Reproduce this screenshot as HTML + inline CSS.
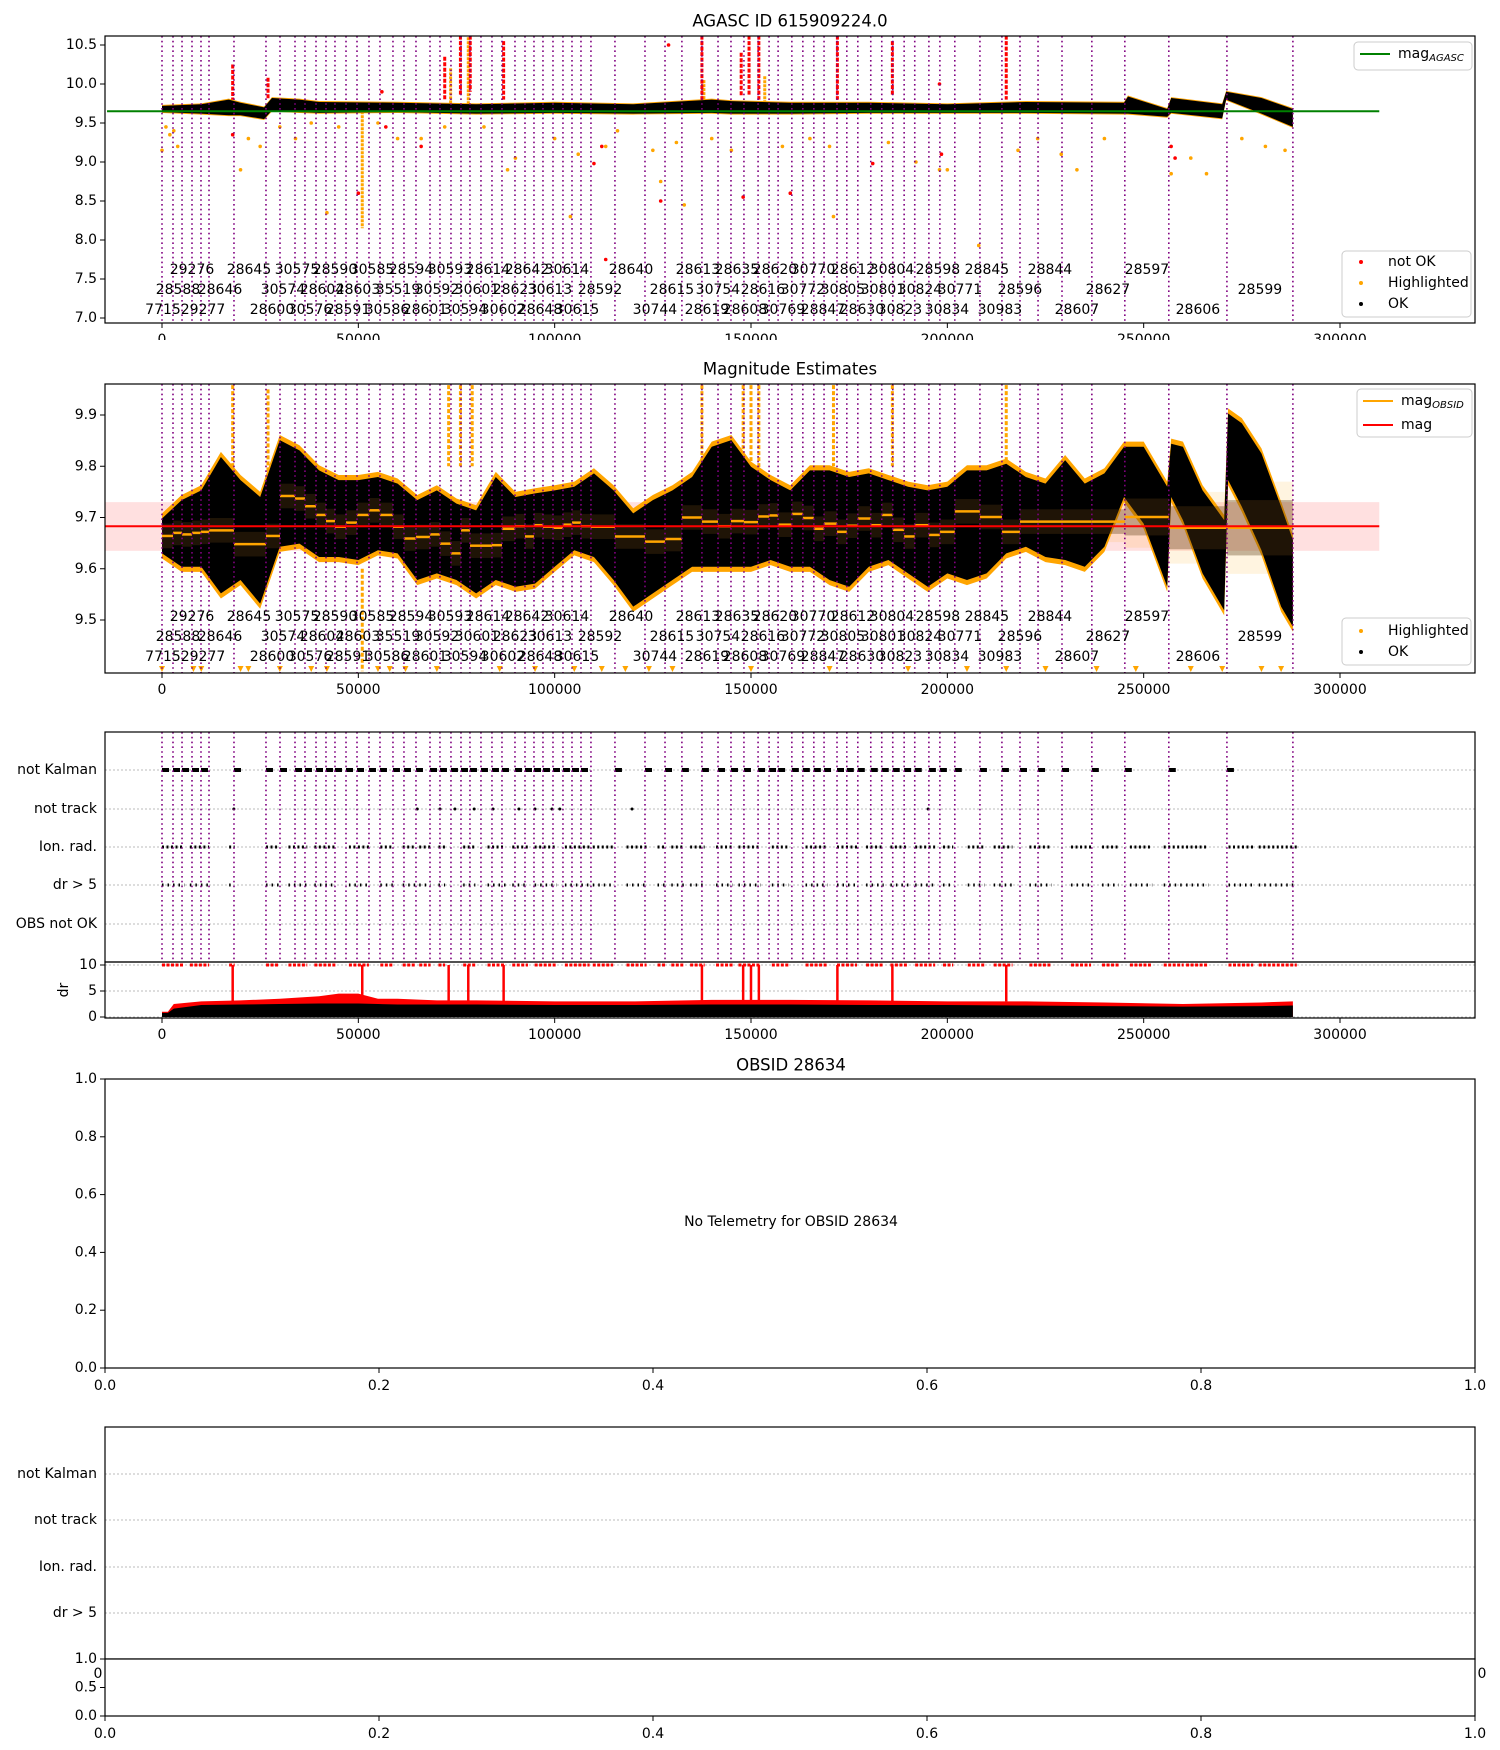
<!DOCTYPE html>
<html><head><meta charset="utf-8"><title>AGASC 615909224</title>
<style>
html,body{margin:0;padding:0;background:#fff;}
svg{display:block;font-family:"DejaVu Sans","Liberation Sans",sans-serif;}
</style></head>
<body>
<svg id="fig" xmlns="http://www.w3.org/2000/svg" width="1500" height="1750" viewBox="0 0 1500 1750"></svg>
<script>
// ---------- data ----------
const obsStart = [0,2800,5100,7640,9930,11970,18330,26480,30050,33870,36410,39220,41760,44050,46860,49660,52710,55510,58820,61620,64680,68250,70790,73590,76140,78430,81230,84030,86580,89890,92440,94730,97020,99570,102110,104410,106700,109240,115350,123000,128100,132400,137500,141600,144900,148200,151800,154600,156900,160400,163200,166000,168600,171900,174400,177200,180500,183300,186100,189000,191700,195300,198100,201900,208300,213900,218500,223100,229200,236800,245200,256400,271200,288000];
const obsMedian = [9.664,9.670,9.667,9.670,9.672,9.675,9.648,9.664,9.742,9.737,9.722,9.705,9.693,9.682,9.690,9.705,9.714,9.705,9.682,9.659,9.662,9.667,9.649,9.630,9.675,9.645,9.645,9.646,9.678,9.683,9.663,9.685,9.682,9.680,9.686,9.690,9.683,9.682,9.663,9.653,9.658,9.700,9.692,9.683,9.693,9.691,9.702,9.704,9.686,9.707,9.699,9.678,9.688,9.672,9.684,9.698,9.685,9.705,9.676,9.663,9.685,9.666,9.672,9.712,9.701,9.672,9.692,9.692,9.692,9.692,9.701,9.680,9.680];
const obsStd = [0.04,0.04,0.04,0.04,0.04,0.04,0.04,0.04,0.04,0.04,0.04,0.04,0.04,0.04,0.04,0.04,0.04,0.04,0.04,0.04,0.04,0.04,0.04,0.04,0.04,0.04,0.04,0.04,0.04,0.04,0.04,0.04,0.04,0.04,0.04,0.04,0.04,0.04,0.04,0.04,0.04,0.04,0.04,0.04,0.04,0.04,0.04,0.04,0.04,0.04,0.04,0.04,0.04,0.04,0.04,0.04,0.04,0.04,0.04,0.04,0.04,0.04,0.04,0.04,0.04,0.04,0.04,0.04,0.04,0.04,0.06,0.07,0.09];

const labRow0 = ["29276","28645","30575","28590","30585","28594","30593","28614","28642","30614","28640","28613","28635","28620","30770","28612","30804","28598","28845","28844","28597"];
const labRow0T = [7640,22150,34380,44050,53480,63410,73340,83010,92950,103130,119430,136490,146420,156100,165780,175960,185890,197600,210080,226130,250830];
const labRow1 = ["28588","28646","30574","28604","28603","35519","30592","30601","28623","30613","28592","28615","30754","28616","30772","30805","30801","30824","30771","28596","28627","28599"];
const labRow1T = [4070,14770,30810,40740,49910,60100,70030,80210,89890,98800,111540,129870,141580,153040,163230,173410,183600,193020,203210,218490,240900,279600];
const labRow2 = ["7715","29277","28600","30576","28591","30586","28601","30594","30602","28648","30615","30744","28619","28608","30769","28847","28630","30823","30834","30983","28607","28606"];
const labRow2T = [250,10440,28010,37690,47360,57300,66970,77160,86830,96260,105680,125540,138780,148460,158130,168320,178250,187930,199900,213390,233000,263810];

const magAgasc = 9.65;
const p1T  = [0,10000,17000,20000,26000,28000,35000,40000,60000,80000,100000,120000,140000,145000,160000,180000,200000,220000,245000,246000,256000,257000,270000,271000,280000,288000];
const p1Hi = [9.72,9.74,9.8,9.76,9.7,9.82,9.8,9.77,9.76,9.74,9.76,9.74,9.8,9.78,9.76,9.76,9.74,9.77,9.76,9.84,9.68,9.82,9.74,9.9,9.82,9.68];
const p1Lo = [9.64,9.62,9.6,9.6,9.55,9.66,9.64,9.63,9.64,9.62,9.63,9.62,9.63,9.62,9.62,9.63,9.63,9.63,9.62,9.62,9.58,9.63,9.56,9.8,9.62,9.45];
const p1SpikeT  = [18000,27000,72000,76000,78500,87000,137500,147500,149500,152000,172000,186000,215000];
const p1SpikeLo = [9.8,9.8,9.8,9.85,9.9,9.8,9.8,9.85,9.85,9.8,9.8,9.85,9.8];
const p1SpikeHi = [10.25,10.08,10.35,10.62,10.62,10.55,10.62,10.4,10.62,10.62,10.62,10.55,10.62];
const p1OrSpikeT = [51000,73500,78000,153500,138000];
const p1OrSpikeLo = [8.15,9.75,9.75,9.75,9.75];
const p1OrSpikeHi = [9.65,10.2,10.6,10.1,10.05];
const p1OrT = [1000,2000,3000,4000,0,20000,22000,25000,30000,34000,38000,42000,45000,55000,60000,66000,72000,82000,88000,90000,100000,104000,106000,113000,116000,125000,127000,131000,133000,140000,145000,158000,165000,170000,171000,185000,192000,198000,200000,208000,218000,223000,229000,233000,240000,257000,262000,266000,275000,281000,286000];
const p1OrM = [9.45,9.35,9.4,9.2,9.15,8.9,9.3,9.2,9.45,9.3,9.5,8.35,9.45,9.5,9.3,9.3,9.45,9.45,8.9,9.05,9.3,8.3,9.1,9.2,9.4,9.15,8.75,9.25,8.45,9.3,9.15,9.2,9.3,9.2,8.3,9.25,9.0,8.9,8.9,7.93,9.15,9.3,9.1,8.9,9.3,8.85,9.05,8.85,9.3,9.2,9.15];
const p1RedT = [18000,50000,56000,57000,66000,110000,112000,113000,127000,129000,148000,160000,181000,198000,198500,257000,258000];
const p1RedM = [9.35,8.6,9.9,9.45,9.2,8.98,9.2,7.75,8.5,10.5,8.55,8.6,8.98,10.0,9.1,9.2,9.05];

const p2T  = [0,5000,10000,15000,20000,25000,30000,35000,40000,45000,50000,55000,60000,65000,70000,75000,80000,85000,90000,95000,100000,105000,110000,115000,120000,125000,130000,135000,140000,145000,150000,155000,160000,165000,170000,175000,180000,185000,190000,195000,200000,205000,210000,215000,220000,225000,230000,235000,240000,245000,250000,256000,257000,260000,265000,270500,271500,275000,280000,285000,288000];
const p2Hi = [9.698,9.734,9.753,9.818,9.773,9.740,9.851,9.831,9.792,9.773,9.773,9.779,9.766,9.734,9.753,9.727,9.714,9.779,9.740,9.747,9.753,9.760,9.786,9.753,9.708,9.734,9.753,9.779,9.838,9.851,9.799,9.773,9.753,9.792,9.792,9.779,9.786,9.773,9.760,9.753,9.760,9.792,9.792,9.805,9.779,9.766,9.812,9.766,9.786,9.838,9.838,9.760,9.844,9.838,9.753,9.695,9.903,9.884,9.825,9.721,9.656];
const p2Lo = [9.630,9.604,9.604,9.552,9.578,9.532,9.643,9.649,9.623,9.623,9.617,9.636,9.630,9.578,9.591,9.578,9.552,9.578,9.565,9.571,9.604,9.636,9.623,9.578,9.526,9.552,9.578,9.604,9.604,9.604,9.604,9.617,9.604,9.604,9.578,9.565,9.604,9.617,9.591,9.565,9.591,9.578,9.591,9.630,9.643,9.623,9.617,9.604,9.643,9.740,9.688,9.565,9.740,9.695,9.591,9.519,9.773,9.721,9.636,9.526,9.487];
const magMean = 9.683;
const magBandLo = 9.635;
const magBandHi = 9.73;
const p2SpikeT  = [18000,27000,51000,73000,76000,79000,137500,148000,150000,152000,171000,186000,215000];
const p2SpikeLo = [9.78,9.75,9.40,9.8,9.8,9.8,9.8,9.8,9.8,9.78,9.8,9.8,9.8];
const p2SpikeHi = [9.97,9.95,9.6,9.97,9.97,9.97,9.97,9.97,9.97,9.97,9.97,9.97,9.97];
const p2TriT = [0,8000,10000,20000,22000,30000,38000,42000,55000,58000,62000,70000,86000,95000,105000,112000,118000,124000,130000,150000,170000,190000,205000,215000,225000,238000,248000,262000,270000,280000,285000];

const flagNotKalmanT = [0,2800,5100,7640,9930,18330,26480,30050,33870,36410,39220,41760,44050,46860,49660,52710,55510,58820,61620,64680,68250,70790,73590,76140,78430,81230,84030,86580,89890,92440,94730,97020,99570,102110,104410,106700,115350,123000,128100,132400,137500,141600,144900,148200,151800,154600,156900,160400,163200,166000,168600,171900,174400,177200,180500,183300,186100,189000,191700,195300,198100,201900,208300,213900,218500,223100,229200,236800,245200,256400,271200];
const flagNotTrackT = [18300,65000,70800,74600,79500,84300,90900,95000,99300,101300,119700,195100];
const flagIonStart = [0,7100,17100,26500,32200,38800,47600,55600,61300,65500,70400,76700,82900,89200,94900,102600,109700,118300,126200,129700,134500,141100,146800,155300,163900,171900,179300,185500,191800,198900,205200,211800,220900,231500,239400,246500,255100,260800,271600,279300];
const flagIonEnd   = [5700,12000,18500,29900,37000,44200,52700,59000,64700,68400,72100,79800,87500,93200,100600,108900,114900,123400,128500,133100,138200,145400,152500,159600,169600,177000,183800,190100,196900,201500,209500,216600,226600,236600,243700,252200,260200,266500,277900,289000];

const drT = [0,1500,3000,10000,20000,30000,40000,45000,50000,55000,60000,70000,80000,100000,120000,140000,160000,180000,200000,220000,240000,260000,280000,288000];
const drRedHi = [1,1,2.5,3,3.2,3.5,4,4.5,4.5,3.5,3.5,3.2,3.2,3,3,3.3,3.3,3.2,3,3,2.8,2.5,2.8,3];
const drBlackHi = [0.8,0.8,1.6,2.3,2.4,2.5,2.6,2.6,2.6,2.5,2.4,2.4,2.4,2.3,2.3,2.4,2.4,2.3,2.3,2.2,2.1,2.0,2.1,2.2];
const drSpikeT = [18000,51000,73000,78000,87000,137500,148000,150000,152000,172000,186000,215000];

const xTicks = [0,50000,100000,150000,200000,250000,300000];
const p1YTicks = [7.0,7.5,8.0,8.5,9.0,9.5,10.0,10.5];
const p2YTicks = [9.5,9.6,9.7,9.8,9.9];
const flagRows = ["not Kalman","not track","Ion. rad.","dr > 5","OBS not OK"];
const unitTicks = [0.0,0.2,0.4,0.6,0.8,1.0];

// ---------- helpers ----------
const NS = "http://www.w3.org/2000/svg";
const svg = document.getElementById('fig');
function el(tag, attrs, name, parent) {
  const e = document.createElementNS(NS, tag);
  for (const k in attrs) e.setAttribute(k, attrs[k]);
  
  
  (parent || svg).appendChild(e);
  return e;
}
function txt(x, y, s, name, opts) {
  opts = opts || {};
  const t = el('text', {x:x, y:y, 'font-size':opts.size||14, 'text-anchor':opts.anchor||'middle', 'dominant-baseline':'central', fill:'#000'}, name);
  if (opts.rot) t.setAttribute('transform', 'rotate(-90 '+x+' '+y+')');
  t.textContent = s;
  return t;
}
const L = 105, R = 1475;
const X = t => 162 + t * 0.0039267;
function lin(v0, p0, v1, p1) { return v => p0 + (v - v0) * (p1 - p0) / (v1 - v0); }

function frame(top, bot, name) {
  el('rect', {x:L, y:top, width:R-L, height:bot-top, fill:'none', stroke:'#000', 'stroke-width':1.2}, name);
}
function xAxis(bot, name) {
  xTicks.forEach(t => {
    el('line', {x1:X(t), x2:X(t), y1:bot, y2:bot+5, stroke:'#000'}, name+'-tick');
    txt(X(t), bot+17, String(t), name+'-label');
  });
}
function yAxis(ticks, Y, fmt, name) {
  ticks.forEach(v => {
    el('line', {x1:L-5, x2:L, y1:Y(v), y2:Y(v), stroke:'#000'}, name+'-tick');
    txt(L-8, Y(v), fmt(v), name+'-label', {anchor:'end'});
  });
}
function obsLines(top, bot, name) {
  obsStart.forEach(t => {
    el('line', {x1:X(t), x2:X(t), y1:top, y2:bot, stroke:'#800080', 'stroke-width':1.6, 'stroke-dasharray':'1.6 3.2'}, name);
  });
}
function bandPoly(ts, hi, lo, Y, fill, name, pad) {
  pad = pad || 0;
  let pts = [];
  for (let i = 0; i < ts.length; i++) pts.push(X(ts[i]) + ',' + Y(hi[i] + pad));
  for (let i = ts.length - 1; i >= 0; i--) pts.push(X(ts[i]) + ',' + Y(lo[i] - pad));
  el('polygon', {points:pts.join(' '), fill:fill}, name);
}
function labels(Y, ys, name) {
  labRow0.forEach((s,i) => txt(X(labRow0T[i]), ys[0], s, name+'-obsid-label'));
  labRow1.forEach((s,i) => txt(X(labRow1T[i]), ys[1], s, name+'-obsid-label'));
  labRow2.forEach((s,i) => txt(X(labRow2T[i]), ys[2], s, name+'-obsid-label'));
}
function legendBox(x, y, w, h, name) {
  el('rect', {x:x, y:y, width:w, height:h, rx:4, fill:'#fff', 'fill-opacity':0.85, stroke:'#ccc'}, name);
}

// ---------- panel 1 ----------
(function(){
  const top = 36, bot = 323;
  const Y = lin(10.5, 45, 7.0, 318);
  el('rect', {x:L, y:top, width:R-L, height:bot-top, fill:'#fff'}, 'panel1-bg');
  p1OrSpikeT.forEach((t,i) => el('line', {x1:X(t), x2:X(t), y1:Y(p1OrSpikeHi[i]), y2:Y(p1OrSpikeLo[i]), stroke:'orange', 'stroke-width':3, 'stroke-dasharray':'3 1'}, 'highlighted-spike'));
  p1OrT.forEach((t,i) => el('circle', {cx:X(t), cy:Y(p1OrM[i]), r:1.8, fill:'orange'}, 'highlighted-point'));
  bandPoly(p1T, p1Hi, p1Lo, Y, 'orange', 'highlighted-band', 0.012);
  bandPoly(p1T, p1Hi, p1Lo, Y, '#000', 'ok-band');
  p1SpikeT.forEach((t,i) => el('line', {x1:X(t), x2:X(t), y1:Y(p1SpikeHi[i]), y2:Y(p1SpikeLo[i]), stroke:'red', 'stroke-width':3, 'stroke-dasharray':'4 1.5'}, 'not-ok-spike'));
  p1RedT.forEach((t,i) => el('circle', {cx:X(t), cy:Y(p1RedM[i]), r:1.8, fill:'red'}, 'not-ok-point'));
  el('line', {x1:X(-14000), x2:X(310000), y1:Y(magAgasc), y2:Y(magAgasc), stroke:'green', 'stroke-width':2}, 'mag-agasc-line');
  obsLines(top, bot, 'panel1-obsid-line');
  labels(Y, [270, 290, 310], 'panel1');
  el('rect', {x:L, y:0, width:R-L, height:top, fill:'#fff'}, 'panel1-clip');
  txt(790, 21, 'AGASC ID 615909224.0', 'panel1-title', {size:16.5});
  frame(top, bot, 'panel1-frame');
  xAxis(bot, 'panel1-x');
  yAxis(p1YTicks, Y, v => v.toFixed(1), 'panel1-y');
  legendBox(1354, 42, 118, 28, 'panel1-legend-top');
  el('line', {x1:1360, x2:1390, y1:54, y2:54, stroke:'green', 'stroke-width':2}, 'legend-mag-agasc-swatch');
  const lt = txt(1398, 54, 'mag', 'legend-mag-agasc-label', {anchor:'start'});
  const sub = document.createElementNS(NS, 'tspan');
  sub.setAttribute('font-size', '10'); sub.setAttribute('dy', '4'); sub.setAttribute('font-style','italic');
  sub.textContent = 'AGASC'; lt.appendChild(sub);
  legendBox(1342, 251, 129, 66, 'panel1-legend-bottom');
  el('circle', {cx:1361, cy:262, r:2, fill:'red'}, 'legend-not-ok-marker');
  txt(1388, 262, 'not OK', 'legend-not-ok-label', {anchor:'start'});
  el('circle', {cx:1361, cy:283, r:2, fill:'orange'}, 'legend-highlighted-marker');
  txt(1388, 283, 'Highlighted', 'legend-highlighted-label', {anchor:'start'});
  el('circle', {cx:1361, cy:304, r:2, fill:'#000'}, 'legend-ok-marker');
  txt(1388, 304, 'OK', 'legend-ok-label', {anchor:'start'});
})();

// ---------- panel 2 ----------
(function(){
  const top = 384, bot = 673;
  const Y = lin(9.9, 415, 9.5, 620);
  el('rect', {x:L, y:Y(magBandHi), width:X(310000)-L, height:Y(magBandLo)-Y(magBandHi), fill:'red', 'fill-opacity':0.12}, 'mag-std-band');
  for (let i = 0; i < obsStart.length - 1 && i < obsMedian.length; i++) {
    const x0 = X(obsStart[i]), x1 = X(obsStart[i+1]);
    el('rect', {x:x0, y:Y(obsMedian[i]+obsStd[i]), width:x1-x0, height:Y(obsMedian[i]-obsStd[i])-Y(obsMedian[i]+obsStd[i]), fill:'orange', 'fill-opacity':0.12}, 'obsid-std-band');
  }
  p2SpikeT.forEach((t,i) => el('line', {x1:X(t), x2:X(t), y1:Y(p2SpikeHi[i]), y2:Y(p2SpikeLo[i]), stroke:'orange', 'stroke-width':3, 'stroke-dasharray':'4 2'}, 'highlighted-spike'));
  bandPoly(p2T, p2Hi, p2Lo, Y, 'orange', 'highlighted-band', 0.01);
  bandPoly(p2T, p2Hi, p2Lo, Y, '#000', 'ok-band');
  for (let i = 0; i < obsStart.length - 1 && i < obsMedian.length; i++) {
    const x0 = X(obsStart[i]), x1 = X(obsStart[i+1]);
    el('rect', {x:x0, y:Y(obsMedian[i]+obsStd[i]*0.6), width:x1-x0, height:Y(obsMedian[i]-obsStd[i]*0.6)-Y(obsMedian[i]+obsStd[i]*0.6), fill:'#5a3a10', 'fill-opacity':0.35}, 'obsid-dark-band');
    el('line', {x1:x0, x2:x1, y1:Y(obsMedian[i]), y2:Y(obsMedian[i]), stroke:'orange', 'stroke-width':2.5}, 'mag-obsid-line');
  }
  el('line', {x1:L, x2:X(310000), y1:Y(magMean), y2:Y(magMean), stroke:'red', 'stroke-width':2}, 'mag-line');
  p2TriT.forEach(t => el('polygon', {points:(X(t)-3)+','+(bot-7)+' '+(X(t)+3)+','+(bot-7)+' '+X(t)+','+(bot-1), fill:'orange'}, 'out-of-range-marker'));
  obsLines(top, bot, 'panel2-obsid-line');
  labels(Y, [617, 637, 657], 'panel2');
  el('rect', {x:L, y:340, width:R-L, height:top-340, fill:'#fff'}, 'panel2-clip');
  txt(790, 369, 'Magnitude Estimates', 'panel2-title', {size:16.5});
  frame(top, bot, 'panel2-frame');
  xAxis(bot, 'panel2-x');
  yAxis(p2YTicks, Y, v => v.toFixed(1), 'panel2-y');
  legendBox(1357, 389, 115, 48, 'panel2-legend-top');
  el('line', {x1:1363, x2:1393, y1:401, y2:401, stroke:'orange', 'stroke-width':2}, 'legend-mag-obsid-swatch');
  const lt = txt(1401, 401, 'mag', 'legend-mag-obsid-label', {anchor:'start'});
  const sub = document.createElementNS(NS, 'tspan');
  sub.setAttribute('font-size', '10'); sub.setAttribute('dy', '4'); sub.setAttribute('font-style','italic');
  sub.textContent = 'OBSID'; lt.appendChild(sub);
  el('line', {x1:1363, x2:1393, y1:425, y2:425, stroke:'red', 'stroke-width':2}, 'legend-mag-swatch');
  txt(1401, 425, 'mag', 'legend-mag-label', {anchor:'start'});
  legendBox(1342, 618, 129, 47, 'panel2-legend-bottom');
  el('circle', {cx:1361, cy:631, r:2, fill:'orange'}, 'legend-highlighted-marker');
  txt(1388, 631, 'Highlighted', 'legend-highlighted-label', {anchor:'start'});
  el('circle', {cx:1361, cy:652, r:2, fill:'#000'}, 'legend-ok-marker');
  txt(1388, 652, 'OK', 'legend-ok-label', {anchor:'start'});
})();

// ---------- panel 3: flags + dr ----------
(function(){
  const top = 732, mid = 962, bot = 1018;
  const rowY = [770, 809, 847, 885, 924];
  flagRows.forEach((s,i) => {
    el('line', {x1:L, x2:R, y1:rowY[i], y2:rowY[i], stroke:'#bbb', 'stroke-dasharray':'2 2'}, 'flag-grid-line');
    txt(L-8, rowY[i], s, 'flag-row-label', {anchor:'end'});
  });
  flagNotKalmanT.forEach(t => el('rect', {x:X(t), y:rowY[0]-2, width:7, height:4, fill:'#000'}, 'not-kalman-point'));
  flagNotTrackT.forEach(t => el('circle', {cx:X(t), cy:rowY[1], r:1.5, fill:'#000'}, 'not-track-point'));
  flagIonStart.forEach((t,i) => {
    el('line', {x1:X(t), x2:X(flagIonEnd[i]), y1:rowY[2], y2:rowY[2], stroke:'#000', 'stroke-width':3, 'stroke-dasharray':'2 2.5'}, 'ion-rad-points');
    el('line', {x1:X(t), x2:X(flagIonEnd[i]), y1:rowY[3], y2:rowY[3], stroke:'#000', 'stroke-width':3, 'stroke-dasharray':'1.5 4'}, 'dr-gt-5-points');
  });
  obsLines(top, mid, 'panel3-obsid-line');
  frame(top, mid, 'flags-frame');
  const Y = lin(0, 1017, 10, 965);
  [0,5,10].forEach(v => el('line', {x1:L, x2:R, y1:Y(v), y2:Y(v), stroke:'#bbb', 'stroke-dasharray':'2 2'}, 'dr-grid-line'));
  bandPoly(drT, drRedHi, drT.map(()=>0), Y, 'red', 'dr-red-band');
  bandPoly(drT, drBlackHi, drT.map(()=>0), Y, '#000', 'dr-black-band');
  drSpikeT.forEach(t => el('line', {x1:X(t), x2:X(t), y1:Y(10), y2:Y(3), stroke:'red', 'stroke-width':2.5}, 'dr-spike'));
  flagIonStart.forEach((t,i) => el('line', {x1:X(t), x2:X(flagIonEnd[i]), y1:Y(10), y2:Y(10), stroke:'red', 'stroke-width':3, 'stroke-dasharray':'3 1.5'}, 'dr-clipped-points'));
  el('rect', {x:L, y:mid, width:R-L, height:bot-mid, fill:'none', stroke:'#000', 'stroke-width':1.2}, 'dr-frame');
  yAxis([0,5,10], Y, v => String(v), 'dr-y');
  txt(64, 990, 'dr', 'dr-y-title', {rot:true});
  xAxis(bot, 'panel3-x');
})();

// ---------- panel 4: OBSID ----------
(function(){
  const top = 1079, bot = 1368;
  txt(791, 1065, 'OBSID 28634', 'panel4-title', {size:16.5});
  frame(top, bot, 'panel4-frame');
  const Y = lin(0, bot, 1, top), XU = lin(0, L, 1, R);
  unitTicks.forEach(v => {
    el('line', {x1:L-5, x2:L, y1:Y(v), y2:Y(v), stroke:'#000'}, 'panel4-y-tick');
    txt(L-8, Y(v), v.toFixed(1), 'panel4-y-label', {anchor:'end'});
    el('line', {x1:XU(v), x2:XU(v), y1:bot, y2:bot+5, stroke:'#000'}, 'panel4-x-tick');
    txt(XU(v), bot+18, v.toFixed(1), 'panel4-x-label');
  });
  txt(791, 1222, 'No Telemetry for OBSID 28634', 'no-telemetry-message');
})();

// ---------- panel 5 ----------
(function(){
  const top = 1427, mid = 1659, bot = 1716;
  const rowY = [1474, 1520, 1567, 1613];
  flagRows.slice(0,4).forEach((s,i) => {
    el('line', {x1:L, x2:R, y1:rowY[i], y2:rowY[i], stroke:'#bbb', 'stroke-dasharray':'2 2'}, 'flag-grid-line');
    txt(L-8, rowY[i], s, 'flag-row-label', {anchor:'end'});
  });
  frame(top, mid, 'panel5-flags-frame');
  txt(98, 1674, '0', 'clipped-x-label');
  txt(1482, 1674, '0', 'clipped-x-label');
  el('rect', {x:L, y:mid, width:R-L, height:bot-mid, fill:'#fff', stroke:'#000', 'stroke-width':1.2}, 'panel5-dr-frame');
  const Y = lin(0, bot, 1, mid), XU = lin(0, L, 1, R);
  [0,0.5,1].forEach(v => {
    el('line', {x1:L-5, x2:L, y1:Y(v), y2:Y(v), stroke:'#000'}, 'panel5-y-tick');
    txt(L-8, Y(v), v.toFixed(1), 'panel5-y-label', {anchor:'end'});
  });
  unitTicks.forEach(v => {
    el('line', {x1:XU(v), x2:XU(v), y1:bot, y2:bot+5, stroke:'#000'}, 'panel5-x-tick');
    txt(XU(v), bot+18, v.toFixed(1), 'panel5-x-label');
  });
})();
</script>
</body></html>
